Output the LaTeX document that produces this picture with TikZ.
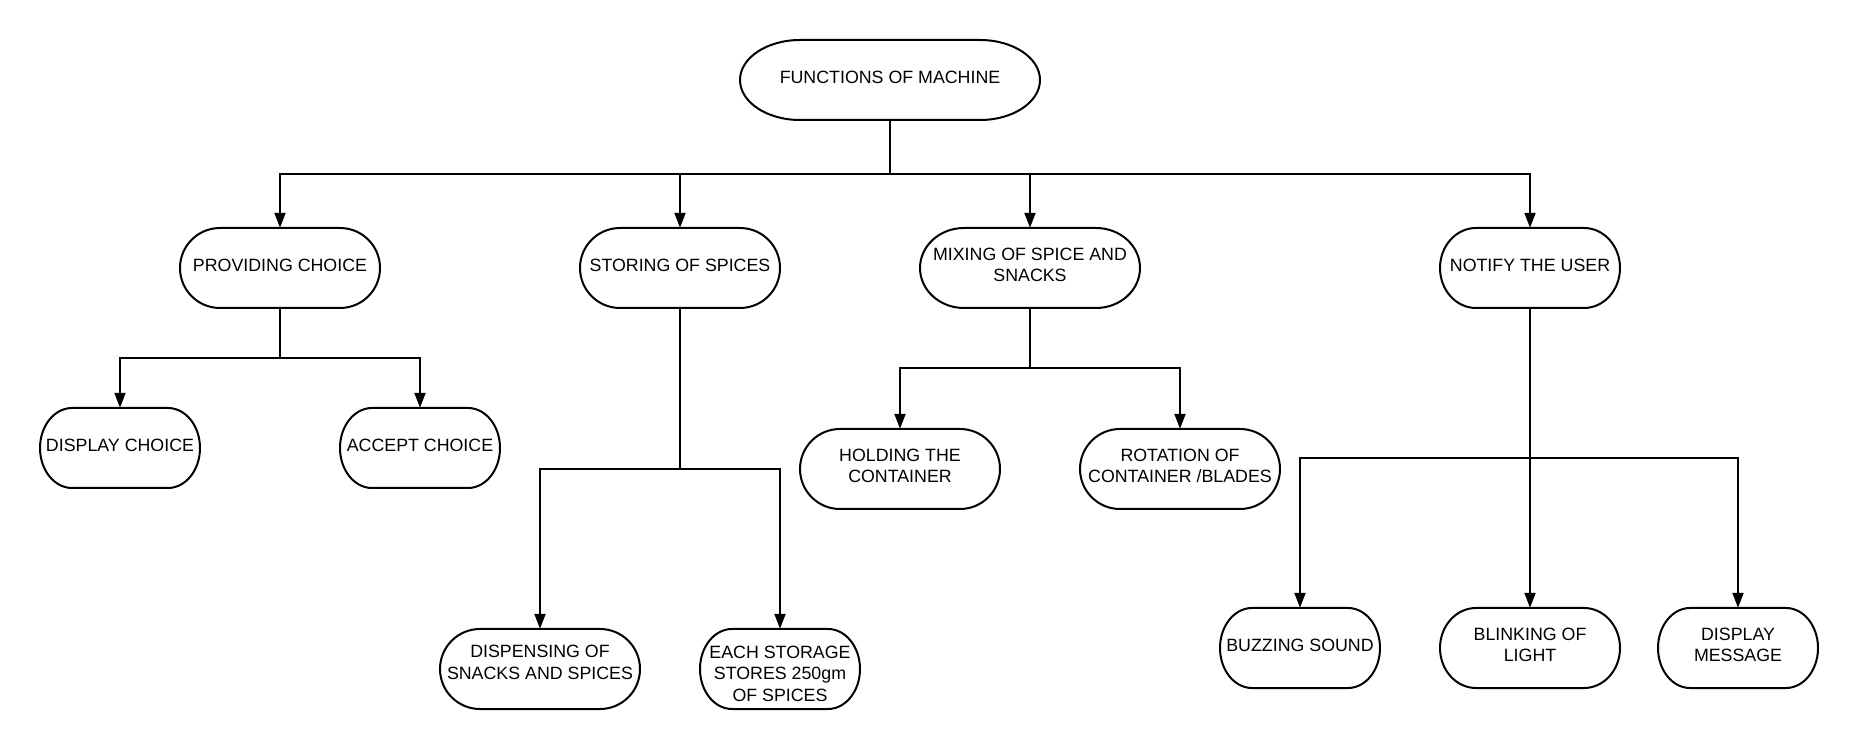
\documentclass[tikz,border=0pt]{standalone}
\usepackage{fontspec}
\setmainfont{Liberation Sans}
\usetikzlibrary{arrows.meta}
\newcommand\termnode[7][]{%
  \node[lbl, minimum width=#5pt, minimum height=#6pt, #1] (#2) at (#3,#4) {#7};
  \draw[shp] (#3-0.3*#5,#4+0.5*#6) -- (#3+0.3*#5,#4+0.5*#6)
    arc[start angle=90,end angle=-90,x radius=0.2*#5pt,y radius=0.5*#6pt]
    -- (#3-0.3*#5,#4-0.5*#6)
    arc[start angle=270,end angle=90,x radius=0.2*#5pt,y radius=0.5*#6pt]
    -- cycle;}
\begin{document}
\begin{tikzpicture}[x=1pt,y=1pt,
  lbl/.style={inner sep=0pt, align=center, text depth=6pt,
    font=\fontsize{17.8pt}{21.5pt}\selectfont},
  shp/.style={line width=2pt, draw=black},
  arr/.style={line width=2pt, -{Triangle[length=15pt,width=11pt]}}]
\useasboundingbox (0,0) rectangle (1858,750);
\fill[white] (0,0) rectangle (1858,750);
% nodes
\termnode{top}{890}{670}{300}{80}{FUNCTIONS OF MACHINE}
\termnode{prov}{280}{482}{200}{80}{PROVIDING CHOICE}
\termnode{stor}{680}{482}{200}{80}{STORING OF SPICES}
\termnode{mix}{1030}{482}{220}{80}{MIXING OF SPICE AND\\SNACKS}
\termnode{notify}{1530}{482}{180}{80}{NOTIFY THE USER}
\termnode{dchoice}{120}{302}{160}{80}{DISPLAY CHOICE}
\termnode{achoice}{420}{302}{160}{80}{ACCEPT CHOICE}
\termnode[text depth=13pt]{disp}{540}{81}{200}{80}{DISPENSING OF\\SNACKS AND SPICES}
\termnode[text depth=0pt, text height=64pt]{each}{780}{81}{160}{80}{EACH STORAGE\\STORES 250gm\\OF SPICES}
\termnode{hold}{900}{281}{200}{80}{HOLDING THE\\CONTAINER}
\termnode{rot}{1180}{281}{200}{80}{ROTATION OF\\CONTAINER /BLADES}
\termnode{buzz}{1300}{102}{160}{80}{BUZZING SOUND}
\termnode{blink}{1530}{102}{180}{80}{BLINKING OF\\LIGHT}
\termnode{dmsg}{1738}{102}{160}{80}{DISPLAY\\MESSAGE}
% bars
\coordinate (b0) at (890,576);
\coordinate (b1) at (280,392);
\coordinate (b2) at (680,281);
\coordinate (b3) at (1030,382);
\coordinate (b4) at (1530,292);
% connectors
\draw[arr] (top.south) -- (b0) -| (prov.north);
\draw[arr] (top.south) -- (b0) -| (stor.north);
\draw[arr] (top.south) -- (b0) -| (mix.north);
\draw[arr] (top.south) -- (b0) -| (notify.north);
\draw[arr] (prov.south) -- (b1) -| (dchoice.north);
\draw[arr] (prov.south) -- (b1) -| (achoice.north);
\draw[arr] (stor.south) -- (b2) -| (disp.north);
\draw[arr] (stor.south) -- (b2) -| (each.north);
\draw[arr] (mix.south) -- (b3) -| (hold.north);
\draw[arr] (mix.south) -- (b3) -| (rot.north);
\draw[arr] (notify.south) -- (blink.north);
\draw[arr] (notify.south) -- (b4) -| (buzz.north);
\draw[arr] (notify.south) -- (b4) -| (dmsg.north);
\end{tikzpicture}
\end{document}
